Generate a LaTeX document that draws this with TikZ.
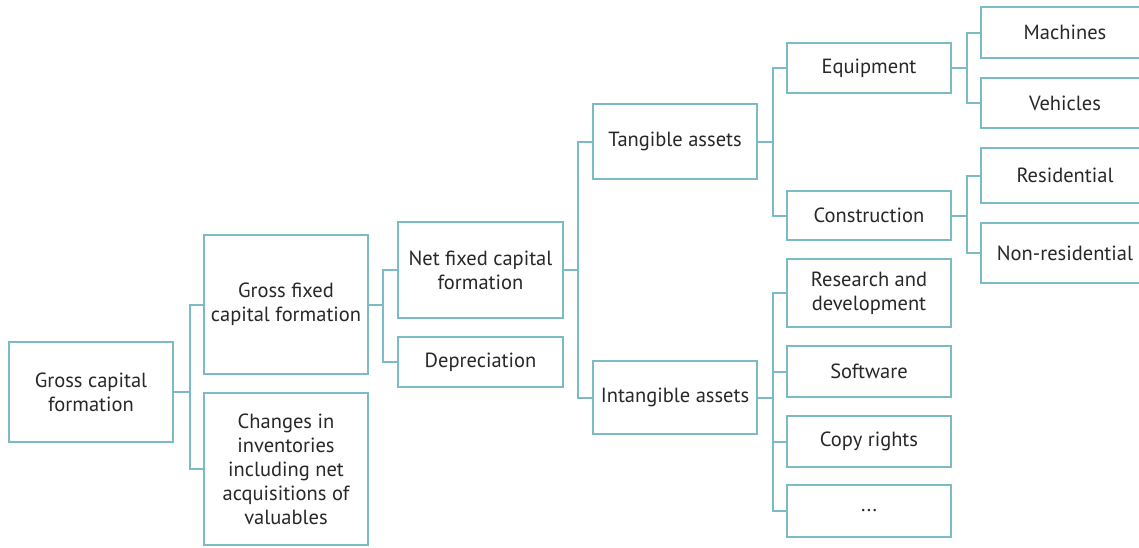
\documentclass[tikz,border=0pt]{standalone}
\usepackage{fontspec}
\setmainfont{PT Sans}
\usepackage{tikz}
\usetikzlibrary{positioning,calc}
\definecolor{cbox}{RGB}{122,187,198}
\definecolor{ctext}{RGB}{40,40,40}

\begin{document}
\begin{tikzpicture}[x=1pt,y=-1pt,
    box/.style={draw=cbox, line width=2.2pt, fill=white, text=ctext, align=center,
      inner sep=0pt, minimum width=164pt,
      font=\fontsize{20.5}{24}\selectfont},
    link/.style={draw=cbox, line width=2pt}]
    \useasboundingbox (0,0) rectangle (1139,547);
    % level 1 and 2
    \node[box, minimum height=100pt] (gcf) at (91,392) {Gross capital\\formation};
    \node[box, minimum height=139pt] (gfcf) at (286,304.5) {Gross fixed\\capital formation};
    \node[box, minimum height=152pt] (chg) at (286,469) {Changes in\\inventories\\including net\\acquisitions of\\valuables};
    % level 3
    \node[box, minimum width=165pt, minimum height=96pt] (nfcf) at (480.5,270) {Net fixed capital\\formation};
    \node[box, minimum width=165pt, minimum height=50pt] (dep) at (480.5,362) {Depreciation};
    % level 4
    \node[box, minimum height=75pt] (tang) at (675,141.5) {Tangible assets};
    \node[box, minimum height=73pt] (intang) at (675,397.5) {Intangible assets};
    % level 5
    \node[box, minimum height=50pt] (equip) at (869,68) {Equipment};
    \node[box, minimum height=49pt] (constr) at (869,215.5) {Construction};
    \node[box, minimum height=68pt] (rnd) at (869,293) {Research and\\development};
    \node[box, minimum height=51pt] (soft) at (869,371.5) {Software};
    \node[box, minimum height=51pt] (copy) at (869,441.5) {Copy rights};
    \node[box, minimum height=52pt] (dots) at (869,511) {...};
    % level 6
    \node[box, minimum width=168pt, minimum height=51pt] (mach) at (1065,32.5) {Machines};
    \node[box, minimum width=168pt, minimum height=50pt] (veh) at (1065,103) {Vehicles};
    \node[box, minimum width=168pt, minimum height=55pt] (res) at (1065,175.5) {Residential};
    \node[box, minimum width=168pt, minimum height=60pt] (nres) at (1065,253) {Non-residential};
    % connectors
    \draw[link] (gcf.east) -- ++(16,0) coordinate (j1) |- (gfcf.west);
    \draw[link] (j1) |- (chg.west);
    \draw[link] (gfcf.east) -- ++(14,0) coordinate (j2) |- (nfcf.west);
    \draw[link] (j2) |- (dep.west);
    \draw[link] (nfcf.east) -- ++(14,0) coordinate (j3) |- (tang.west);
    \draw[link] (j3) |- (intang.west);
    \draw[link] (tang.east) -- ++(15,0) coordinate (j4) |- (equip.west);
    \draw[link] (j4) |- (constr.west);
    \draw[link] (intang.east) -- ++(15,0) coordinate (j5) |- (rnd.west);
    \draw[link] (j5) |- (soft.west);
    \draw[link] (j5) |- (copy.west);
    \draw[link] (j5) |- (dots.west);
    \draw[link] (equip.east) -- ++(15,0) coordinate (j6) |- (mach.west);
    \draw[link] (j6) |- (veh.west);
    \draw[link] (constr.east) -- ++(15,0) coordinate (j7) |- (res.west);
    \draw[link] (j7) |- (nres.west);
\end{tikzpicture}
\end{document}
